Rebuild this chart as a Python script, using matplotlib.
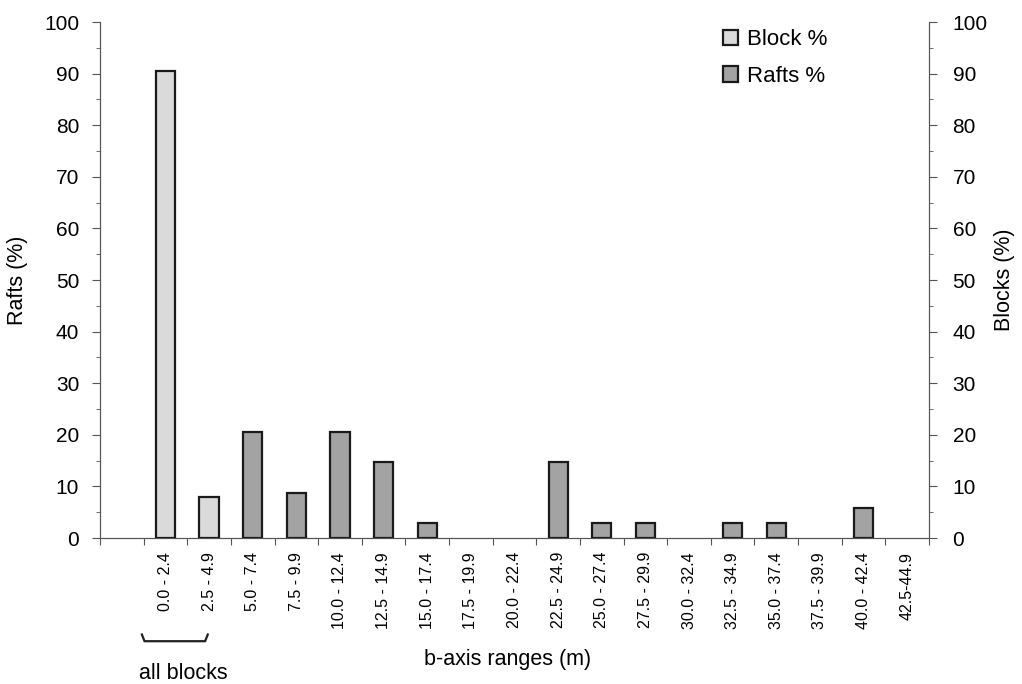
import matplotlib.pyplot as plt
import numpy as np
from matplotlib.ticker import MultipleLocator

plt.rcParams['font.family'] = ['Liberation Sans', 'DejaVu Sans']

# --- DATA ---
ranges = ["", "0.0 - 2.4", "2.5 - 4.9", "5.0 - 7.4", "7.5 - 9.9", "10.0 - 12.4",
          "12.5 - 14.9", "15.0 - 17.4", "17.5 - 19.9", "20.0 - 22.4", "22.5 - 24.9",
          "25.0 - 27.4", "27.5 - 29.9", "30.0 - 32.4", "32.5 - 34.9", "35.0 - 37.4",
          "37.5 - 39.9", "40.0 - 42.4", "42.5-44.9"]
block_pct = [0, 90.6, 8.0, 0, 0, 0, 0, 0, 0, 0, 0, 0, 0, 0, 0, 0, 0, 0, 0]
rafts_pct = [0, 0, 0, 20.6, 8.8, 20.6, 14.7, 2.9, 0, 0, 14.7, 2.9, 2.9, 0, 2.9, 2.9, 0, 5.9, 0]

block_color = '#dadada'
rafts_color = '#a3a3a3'
axis_color = '#555555'

x = np.arange(len(ranges))
w = 0.44

fig = plt.figure(figsize=(10.22, 6.84), dpi=100)
ax = fig.add_axes([100 / 1022, 1 - 538 / 684, 829 / 1022, 516 / 684])
ax2 = ax.twinx()

# rafts on the left axis, blocks on the right axis (only non-zero bars drawn)
rm = np.array(rafts_pct) > 0
bm = np.array(block_pct) > 0
ax.bar(x[rm], np.array(rafts_pct)[rm], width=w, color=rafts_color,
       edgecolor='#1a1a1a', linewidth=1.6, label='Rafts %', zorder=3)
ax2.bar(x[bm], np.array(block_pct)[bm], width=w, color=block_color,
        edgecolor='#1a1a1a', linewidth=1.6, label='Block %', zorder=3)

for a in (ax, ax2):
    a.set_ylim(0, 100)
    a.set_xlim(-0.5, len(ranges) - 0.5)
    a.yaxis.set_major_locator(MultipleLocator(10))
    a.yaxis.set_minor_locator(MultipleLocator(5))
    for s in a.spines.values():
        s.set_color(axis_color)
        s.set_linewidth(0.8)
    a.spines['top'].set_visible(False)
    a.tick_params(axis='y', which='major', length=6, width=0.8, color=axis_color,
                  labelsize=15, pad=9)
    a.tick_params(axis='y', which='minor', length=3, width=0.6, color=axis_color)
ax2.tick_params(axis='y', which='major', pad=11)

ax.set_ylabel('Rafts (%)', fontsize=15.5)
ax.yaxis.set_label_coords(-72 / 829, 0.5)
ax2.set_ylabel('Blocks (%)', fontsize=15.5)
ax2.yaxis.set_label_coords(1 + 65 / 829, 0.5)

# x ticks at category boundaries, labels centred in the slots
ax.set_xticks(np.arange(len(ranges) + 1) - 0.5)
ax.set_xticklabels([])
ax.set_xticks(x, minor=True)
ax.set_xticklabels(ranges, minor=True, rotation=90, fontsize=11.5)
ax.tick_params(axis='x', which='major', length=5, width=0.8, color=axis_color)
ax.tick_params(axis='x', which='minor', length=0, pad=10)

ax.text(408 / 829, -0.236, 'b-axis ranges (m)', transform=ax.transAxes, ha='center',
        va='center', fontsize=15.5)

# brace under the block columns
bx0, bx1 = 0.46, 1.97
yb = -0.2
ax.plot([bx0, bx0 + 0.06, bx1 - 0.06, bx1], [yb + 0.013, yb, yb, yb + 0.013],
        transform=ax.get_xaxis_transform(), color='#222222', lw=1.6, clip_on=False)
ax.text(1.42, -0.262, 'all blocks', transform=ax.get_xaxis_transform(), ha='center',
        va='center', fontsize=15.5)

h2, l2 = ax2.get_legend_handles_labels()
h1, l1 = ax.get_legend_handles_labels()
ax2.legend(h2 + h1, l2 + l1, loc='upper left', bbox_to_anchor=(0.727, 1.025),
           frameon=False, fontsize=16, handlelength=0.7, handleheight=0.7,
           handletextpad=0.4, labelspacing=0.7)

fig.savefig('out.png', dpi=100, facecolor='white')
